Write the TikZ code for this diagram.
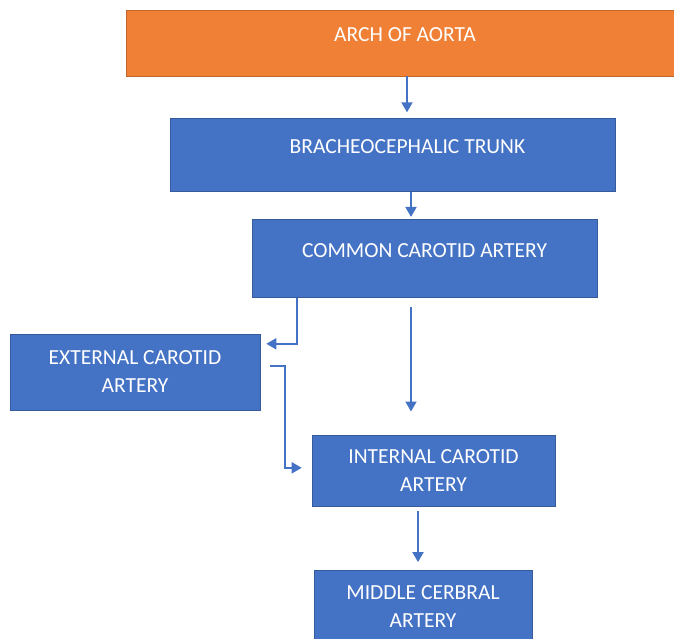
\documentclass[tikz,border=0pt]{standalone}
\usepackage{fontspec}
\setmainfont{Carlito}
\usetikzlibrary{positioning,arrows.meta}
\definecolor{boxblue}{HTML}{4472C4}
\definecolor{boxorange}{HTML}{F08036}
\tikzset{
  artery/.style={rectangle, fill=boxblue, draw=boxblue!80!black, line width=0.6pt,
    text=white, align=center, font=\fontsize{21.5}{28}\selectfont},
  oneline/.style={text height=13.6pt, text depth=16pt},
  flow/.style={draw=boxblue, line width=1.9pt, -{Triangle[width=11pt,length=10pt]}}
}
\begin{document}
\begin{tikzpicture}[x=1pt,y=1pt]
      \useasboundingbox (0,0) rectangle (674,-638);
      % Nodes
      \node (arch) [artery, oneline, fill=boxorange, draw=boxorange!80!black,
        minimum width=548pt, minimum height=66pt] at (400,-43) {\hspace*{10pt}ARCH OF AORTA};
      \node (brach) [artery, oneline, minimum width=445pt, minimum height=73pt,
        below=42pt of arch, xshift=-7.5pt] {\hspace*{30pt}BRACHEOCEPHALIC TRUNK};
      \node (common) [artery, oneline, minimum width=345pt, minimum height=78pt,
        below=27pt of brach, xshift=32pt] {COMMON CAROTID ARTERY};
      \node (external) [artery, minimum width=250pt, minimum height=76pt,
        below=36pt of common, xshift=-289.5pt] {EXTERNAL CAROTID\\ARTERY};
      \node (internal) [artery, minimum width=243pt, minimum height=71pt,
        below=137pt of common, xshift=9pt] {INTERNAL CAROTID\\ARTERY};
      \node (middle) [artery, minimum width=218pt, minimum height=72pt,
        below=64pt of internal, xshift=-10.5pt] {MIDDLE CERBRAL\\ARTERY};

      % Arrows
      \draw[flow, shorten >=6pt] ([xshift=7pt]arch.south) -- ([xshift=14.5pt]brach.north);
      \draw[flow, shorten >=2pt] ([xshift=18.5pt]brach.south) -- ([xshift=-13.5pt]common.north);
      \draw[flow, shorten >=6pt] ([xshift=45pt]common.south west) |- ([yshift=28pt]external.east);
      \draw[flow, shorten <=9pt, shorten >=23pt] ([xshift=-13.5pt]common.south) -- ([xshift=-22.5pt]internal.north);
      \draw[flow, shorten <=10pt, shorten >=10pt] ([yshift=6pt]external.east) -- ++(25pt,0) |- ([yshift=2.5pt]internal.west);
      \draw[flow, shorten <=5pt, shorten >=8pt] ([xshift=-15.5pt]internal.south) -- ([xshift=-5pt]middle.north);
  \end{tikzpicture}
\end{document}
